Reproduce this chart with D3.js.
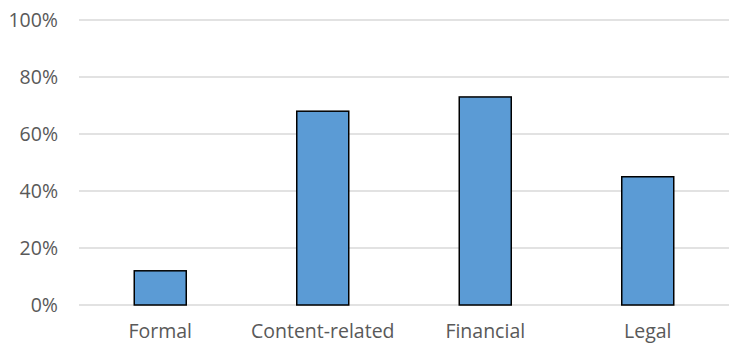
<!DOCTYPE html>
<html lang="en">
<head>
<meta charset="utf-8">
<title>Bar chart</title>
<script src="https://d3js.org/d3.v7.min.js"></script>
<style>
  body { margin: 0; background: #fff; }
  text { font-family: "Open Sans", "Liberation Sans", sans-serif; fill: #595959; }
</style>
</head>
<body>
<div id="chart"></div>
<script>
// data
const categories = ["Formal", "Content-related", "Financial", "Legal"];
const values = [0.12, 0.68, 0.73, 0.45];
const yTicks = [0, 0.2, 0.4, 0.6, 0.8, 1.0];

const W = 729, H = 343;
const margin = {top: 20, right: 0, bottom: 38, left: 79};
const width = W - margin.left - margin.right,
      height = H - margin.top - margin.bottom;

const svg = d3.select("#chart").append("svg")
    .attr("width", W).attr("height", H)
  .append("g")
    .attr("transform", `translate(${margin.left},${margin.top})`);

const x = d3.scaleBand().domain(categories).range([0, width]).paddingInner(0.68).paddingOuter(0.34);
const y = d3.scaleLinear().domain([0, 1]).range([height, 0]);

// gridlines
svg.append("g")
  .selectAll("line")
  .data(yTicks)
  .join("line")
    .attr("x1", 0).attr("x2", width)
    .attr("y1", d => y(d)).attr("y2", d => y(d))
    .attr("stroke", "#d9d9d9").attr("stroke-width", 1.3);

// y axis labels
const yAxis = svg.append("g")
  .call(d3.axisLeft(y).tickValues(yTicks).tickFormat(d3.format(".0%")).tickSize(0).tickPadding(21));
yAxis.select(".domain").remove();
yAxis.selectAll("text").style("font-size", "19.5px").attr("fill", "#595959");

// x axis labels
const xAxis = svg.append("g")
  .attr("transform", `translate(0,${height})`)
  .call(d3.axisBottom(x).tickSize(0).tickPadding(19));
xAxis.select(".domain").remove();
xAxis.selectAll("text").style("font-size", "19.5px").attr("fill", "#595959");

// bars
svg.append("g")
  .selectAll("rect")
  .data(values)
  .join("rect")
    .attr("x", (d, i) => x(categories[i]))
    .attr("y", d => y(d))
    .attr("width", x.bandwidth())
    .attr("height", d => height - y(d))
    .attr("fill", "#5b9bd5")
    .attr("stroke", "#000")
    .attr("stroke-width", 1.5);
</script>
</body>
</html>
